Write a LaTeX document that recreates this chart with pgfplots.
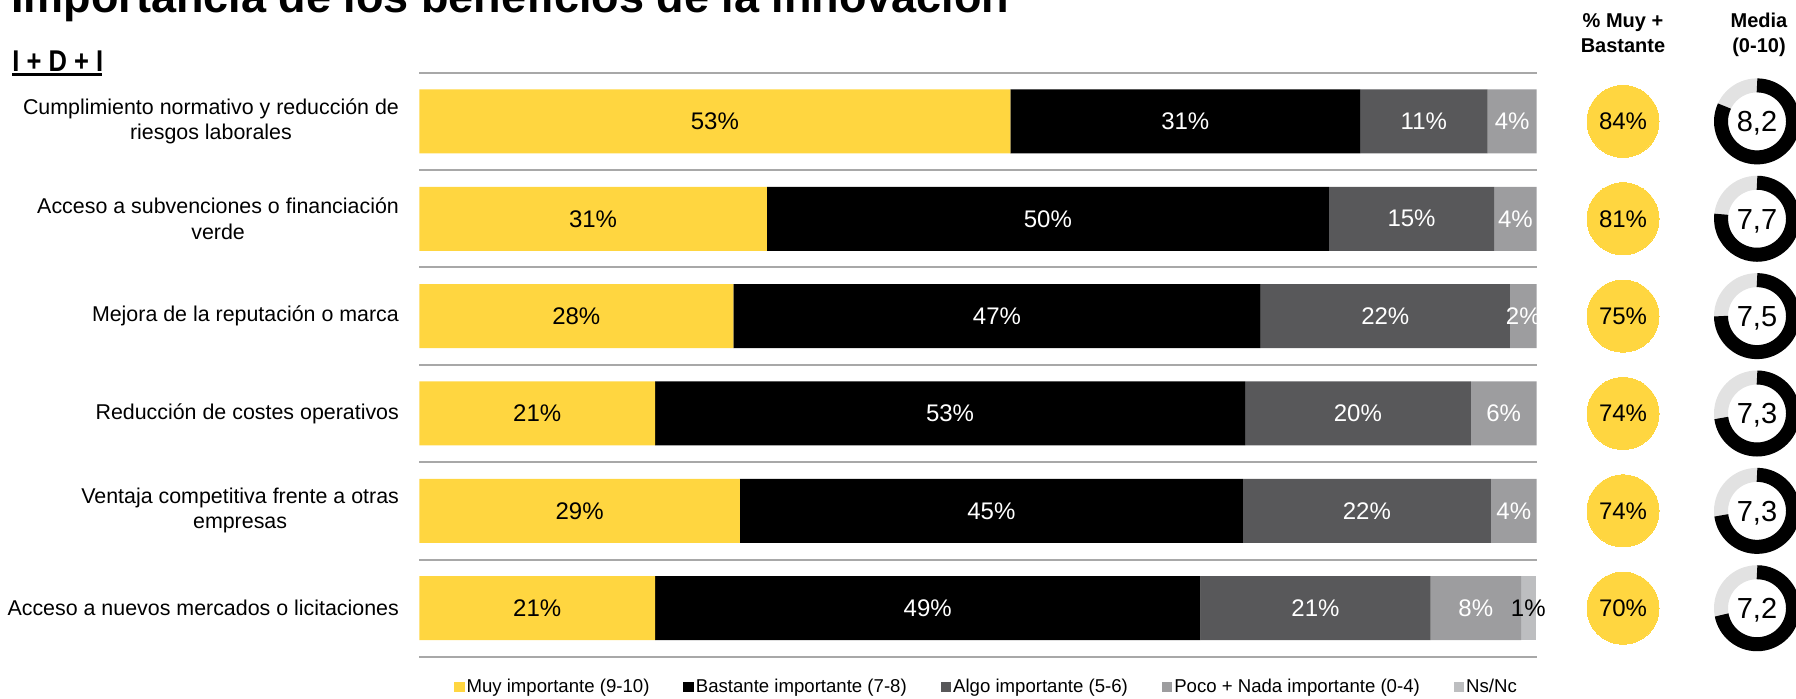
\documentclass[border=0pt]{standalone}
\usepackage{fontspec}
\setmainfont{Liberation Sans}
\usepackage{graphicx}
\usepackage{pgfplots}
\pgfplotsset{compat=1.18}
\usepackage{pgfplotstable}
\pgfkeys{/pgf/number format/assume math mode=true}

\definecolor{cMuy}{HTML}{FFD640}
\definecolor{cBas}{HTML}{000000}
\definecolor{cAlgo}{HTML}{58585A}
\definecolor{cPoco}{HTML}{9D9D9F}
\definecolor{cNs}{HTML}{BDBEC0}
\definecolor{cGrid}{HTML}{A8A8A8}
\definecolor{cRing}{HTML}{E2E2E2}

\pgfplotstableread{
row muy bas algo poco ns
0 52.9 31.3 11.4 4.4 0
1 31.1 50.3 14.8 3.8 0
2 28.1 47.2 22.3 2.4 0
3 21.1 52.8 20.2 5.9 0
4 28.7 45.0 22.2 4.1 0
5 21.1 48.8 20.6 8.1 1.3
}\bardata

\pgfplotstableread{
row x pct
0 1623 84
1 1623 81
2 1623 75
3 1623 74
4 1623 74
5 1623 70
}\pctdata

\pgfplotstableread{
row x m
0 1757 8.2
1 1757 7.7
2 1757 7.5
3 1757 7.3
4 1757 7.3
5 1757 7.2
}\meddata

\pgfplotsset{
  seg/.style n args={3}{
    fill=#1, draw=none,
    point meta=\thisrow{#2},
    visualization depends on={\thisrow{#2} \as \val},
    nodes near coords={\ifdim\val pt>0.5pt \pgfmathprintnumber[fixed,precision=0,assume math mode=true]{\val}\%\fi},
    every node near coord/.append style={anchor=center, text=#3,
      font=\fontsize{12}{14}\selectfont},
  },
}

\begin{document}
\begin{tikzpicture}
\useasboundingbox (0pt,0pt) rectangle (898pt,349pt);

% title
\node[anchor=base west, inner sep=0pt, font=\bfseries\fontsize{22.5}{27}\selectfont]
  at (5.5pt,342.5pt) {Importancia de los beneficios de la innovación};
\node[anchor=base west, inner sep=0pt, font=\bfseries\fontsize{15}{18}\selectfont]
  at (6pt,313pt) {\scalebox{0.85}[1]{I + D + I}};
\draw[line width=1.5pt] (6pt,311.5pt) -- (51pt,311.5pt);

% column headers
\node[anchor=base, inner sep=0pt, font=\bfseries\fontsize{10}{12}\selectfont] at (811.5pt,335pt) {\% Muy +};
\node[anchor=base, inner sep=0pt, font=\bfseries\fontsize{10}{12}\selectfont] at (811.5pt,322.5pt) {Bastante};
\node[anchor=base, inner sep=0pt, font=\bfseries\fontsize{10}{12}\selectfont] at (879.5pt,335pt) {Media};
\node[anchor=base, inner sep=0pt, font=\bfseries\fontsize{10}{12}\selectfont] at (879.5pt,322.5pt) {(0-10)};

\begin{axis}[
  at={(209.65pt,20.55pt)}, anchor=south west,
  width=558.7pt, height=292.1pt, scale only axis,
  xbar stacked, bar width=32pt,
  xmin=0, xmax=100, ymin=-0.5, ymax=5.5, y dir=reverse,
  enlargelimits=false,
  axis line style={draw=none},
  xtick=\empty,
  ytick={0,...,5},
  yticklabels={{Cumplimiento normativo y reducción de\\riesgos laborales},
               {Acceso a subvenciones o financiación\\verde},
               {Mejora de la reputación o marca},
               {Reducción de costes operativos},
               {Ventaja competitiva frente a otras\\empresas},
               {Acceso a nuevos mercados o licitaciones}},
  yticklabel style={align=center, inner sep=0pt, xshift=-10pt,
    font=\fontsize{10.7}{12.6}\selectfont},
  major tick length=0pt, minor tick length=0pt,
  minor ytick={-0.5,0.5,...,5.5},
  yminorgrids=true,
  minor grid style={cGrid, line width=1pt},
  clip=false,
  legend style={at={(0.5085,-0.0515)}, anchor=center, draw=none, fill=none,
    font=\fontsize{9.3}{11}\selectfont, legend columns=-1,
    /tikz/every even column/.append style={column sep=15pt},
    /tikz/every odd column/.append style={column sep=-1pt},
    inner sep=0pt},
  legend image code/.code={\fill[#1] (0pt,-2.6pt) rectangle (5.2pt,2.6pt);},
]
\addplot+[seg={cMuy}{muy}{black}] table[x=muy, y=row] {\bardata};
\addplot+[seg={cBas}{bas}{white}] table[x=bas, y=row] {\bardata};
\addplot+[seg={cAlgo}{algo}{white}] table[x=algo, y=row] {\bardata};
\addplot+[seg={cPoco}{poco}{white}] table[x=poco, y=row] {\bardata};
\addplot+[seg={cNs}{ns}{black}] table[x=ns, y=row] {\bardata};
\legend{Muy importante (9-10), Bastante importante (7-8), Algo importante (5-6), Poco + Nada importante (0-4), Ns/Nc}
\end{axis}

\begin{axis}[
  at={(0pt,20.55pt)}, anchor=south west,
  width=898pt, height=292.1pt, scale only axis,
  xmin=0, xmax=1796, ymin=-0.5, ymax=5.5, y dir=reverse,
  hide axis, clip=false,
]
\addplot[only marks, draw=none, mark=*, mark size=18pt, mark options={solid, fill=cMuy, draw=cMuy, line width=0pt},
  point meta=explicit symbolic,
  nodes near coords={\pgfplotspointmeta\%},
  every node near coord/.append style={anchor=center, text=black, font=\fontsize{12}{14}\selectfont}]
  table[x=x, y=row, meta=pct] {\pctdata};
\addplot[scatter, only marks, mark=*, mark size=0pt,
  mark options={draw opacity=0, fill opacity=0},
  point meta=\thisrow{m},
  visualization depends on={\thisrow{m} \as \mval},
  scatter/@pre marker code/.code={%
    \pgfmathsetmacro\endang{90-36*\mval}%
    \pgfmathtruncatemacro\ip{\mval}%
    \pgfmathtruncatemacro\fp{round(10*\mval)-10*\ip}%
    \begin{scope}[draw opacity=1, fill opacity=1, text opacity=1]
    \draw[line width=7pt, cRing] (0pt,0pt) circle[radius=18pt];
    \draw[line width=7pt, black] (0pt,18pt) arc[start angle=90, end angle=\endang, radius=18pt];
    \node[font=\fontsize{14.5}{16}\selectfont, text=black, anchor=base, inner sep=0pt] at (0pt,-5.2pt) {\ip,\fp};
    \end{scope}
  },
  scatter/@post marker code/.code={}]
  table[x=x, y=row] {\meddata};
\end{axis}
\end{tikzpicture}
\end{document}
